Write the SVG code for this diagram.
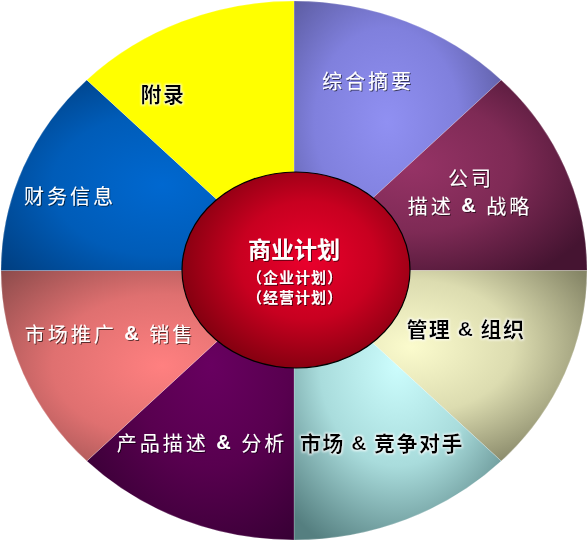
<svg xmlns="http://www.w3.org/2000/svg" width="588" height="541" viewBox="0 0 588 541">
<defs>
<radialGradient id="gLav" cx="0.45" cy="0.45" r="0.7"><stop offset="0" stop-color="#9090f2"/><stop offset="0.5" stop-color="#8080dd"/><stop offset="1" stop-color="#545494"/></radialGradient>
<radialGradient id="gMar" cx="0.4" cy="0.45" r="0.7"><stop offset="0" stop-color="#963366"/><stop offset="0.5" stop-color="#7e2a55"/><stop offset="1" stop-color="#451431"/></radialGradient>
<radialGradient id="gCre" cx="0.4" cy="0.4" r="0.7"><stop offset="0" stop-color="#fbfbcd"/><stop offset="0.5" stop-color="#dcdcb0"/><stop offset="1" stop-color="#858566"/></radialGradient>
<radialGradient id="gCya" cx="0.5" cy="0.35" r="0.75"><stop offset="0" stop-color="#ccfdfd"/><stop offset="0.5" stop-color="#a9dcdc"/><stop offset="1" stop-color="#557f80"/></radialGradient>
<radialGradient id="gPur" cx="0.6" cy="0.35" r="0.75"><stop offset="0" stop-color="#680060"/><stop offset="0.5" stop-color="#58004f"/><stop offset="1" stop-color="#380035"/></radialGradient>
<radialGradient id="gPnk" cx="0.55" cy="0.5" r="0.75"><stop offset="0" stop-color="#ff8080"/><stop offset="0.5" stop-color="#df7070"/><stop offset="1" stop-color="#8a4a4a"/></radialGradient>
<radialGradient id="gBlu" cx="0.55" cy="0.55" r="0.75"><stop offset="0" stop-color="#0068d0"/><stop offset="0.5" stop-color="#005cb8"/><stop offset="1" stop-color="#003a78"/></radialGradient>
<radialGradient id="gRed" cx="0.55" cy="0.45" r="0.6"><stop offset="0" stop-color="#ea002c"/><stop offset="0.5" stop-color="#c80020"/><stop offset="1" stop-color="#7c000e"/></radialGradient>
<filter id="shW" x="-10%" y="-20%" width="120%" height="140%"><feDropShadow dx="1" dy="1" stdDeviation="0.6" flood-color="#000" flood-opacity="0.6"/></filter>
<filter id="shB" x="-10%" y="-20%" width="120%" height="140%"><feMorphology in="SourceAlpha" operator="dilate" radius="1" result="d"/><feFlood flood-color="#fff" flood-opacity="0.8"/><feComposite in2="d" operator="in" result="g"/><feGaussianBlur in="g" stdDeviation="0.8" result="gb"/><feMerge><feMergeNode in="gb"/><feMergeNode in="SourceGraphic"/></feMerge></filter>
</defs>
<style>
.seg{stroke:#ffffff;stroke-opacity:0.25;stroke-width:0.8}
.w{fill:#ffffff;font-family:"Noto Sans CJK SC","Noto Sans",sans-serif;font-size:20px;letter-spacing:3px;text-anchor:middle;dominant-baseline:central;filter:url(#shW)}
.b{fill:#000000;font-family:"Noto Sans CJK SC","Noto Sans",sans-serif;font-size:21px;font-weight:bold;letter-spacing:1.5px;text-anchor:middle;dominant-baseline:central;filter:url(#shB)}
.amp{font-family:"Liberation Sans",Arial,sans-serif;font-weight:bold}
.c{fill:#ffffff;font-family:"Noto Sans CJK SC","Noto Sans",sans-serif;font-weight:bold;text-anchor:middle;dominant-baseline:central;filter:url(#shW)}
</style>
<g id="seg-summary"><path class="seg" fill="url(#gLav)" d="M294,270.5 L294,1 A293,269.5 0 0 1 501.2,79.9 Z"/><text class="w" x="368" y="80">综合摘要</text></g>
<g id="seg-company"><path class="seg" fill="url(#gMar)" d="M294,270.5 L501.2,79.9 A293,269.5 0 0 1 587,270.5 Z"/><text class="w" x="471" y="177">公司</text><text class="w" x="470" y="205">描述 <tspan class="amp">&amp;</tspan> 战略</text></g>
<g id="seg-management"><path class="seg" fill="url(#gCre)" d="M294,270.5 L587,270.5 A293,269.5 0 0 1 501.2,461.1 Z"/><text class="b" x="466" y="328">管理 <tspan class="amp">&amp;</tspan> 组织</text></g>
<g id="seg-market"><path class="seg" fill="url(#gCya)" d="M294,270.5 L501.2,461.1 A293,269.5 0 0 1 294,540 Z"/></g>
<g id="seg-product"><path class="seg" fill="url(#gPur)" d="M294,270.5 L294,540 A293,269.5 0 0 1 86.8,461.1 Z"/></g>
<g id="seg-marketing"><path class="seg" fill="url(#gPnk)" d="M294,270.5 L86.8,461.1 A293,269.5 0 0 1 1,270.5 Z"/><text class="w" x="110" y="333">市场推广 <tspan class="amp">&amp;</tspan> 销售</text></g>
<g id="seg-finance"><path class="seg" fill="url(#gBlu)" d="M294,270.5 L1,270.5 A293,269.5 0 0 1 86.8,79.9 Z"/><text class="w" x="70" y="195">财务信息</text></g>
<g id="seg-appendix"><path class="seg" fill="#ffff00" d="M294,270.5 L86.8,79.9 A293,269.5 0 0 1 294,1 Z"/><text class="b" x="163" y="93">附录</text></g>
<g id="label-market"><text class="b" x="382" y="442">市场 <tspan class="amp">&amp;</tspan> 竞争对手</text></g>
<g id="label-product"><text class="w" x="202" y="442">产品描述 <tspan class="amp">&amp;</tspan> 分析</text></g>
<g id="center"><ellipse cx="296" cy="270" rx="114" ry="98" fill="url(#gRed)" stroke="#000" stroke-width="1.2"/><text class="c" x="294" y="248" font-size="23">商业计划</text><text class="c" x="295" y="276" font-size="15" letter-spacing="1">（企业计划）</text><text class="c" x="295" y="296" font-size="15" letter-spacing="1">（经营计划）</text></g>
<g id="connectors"/>
</svg>
